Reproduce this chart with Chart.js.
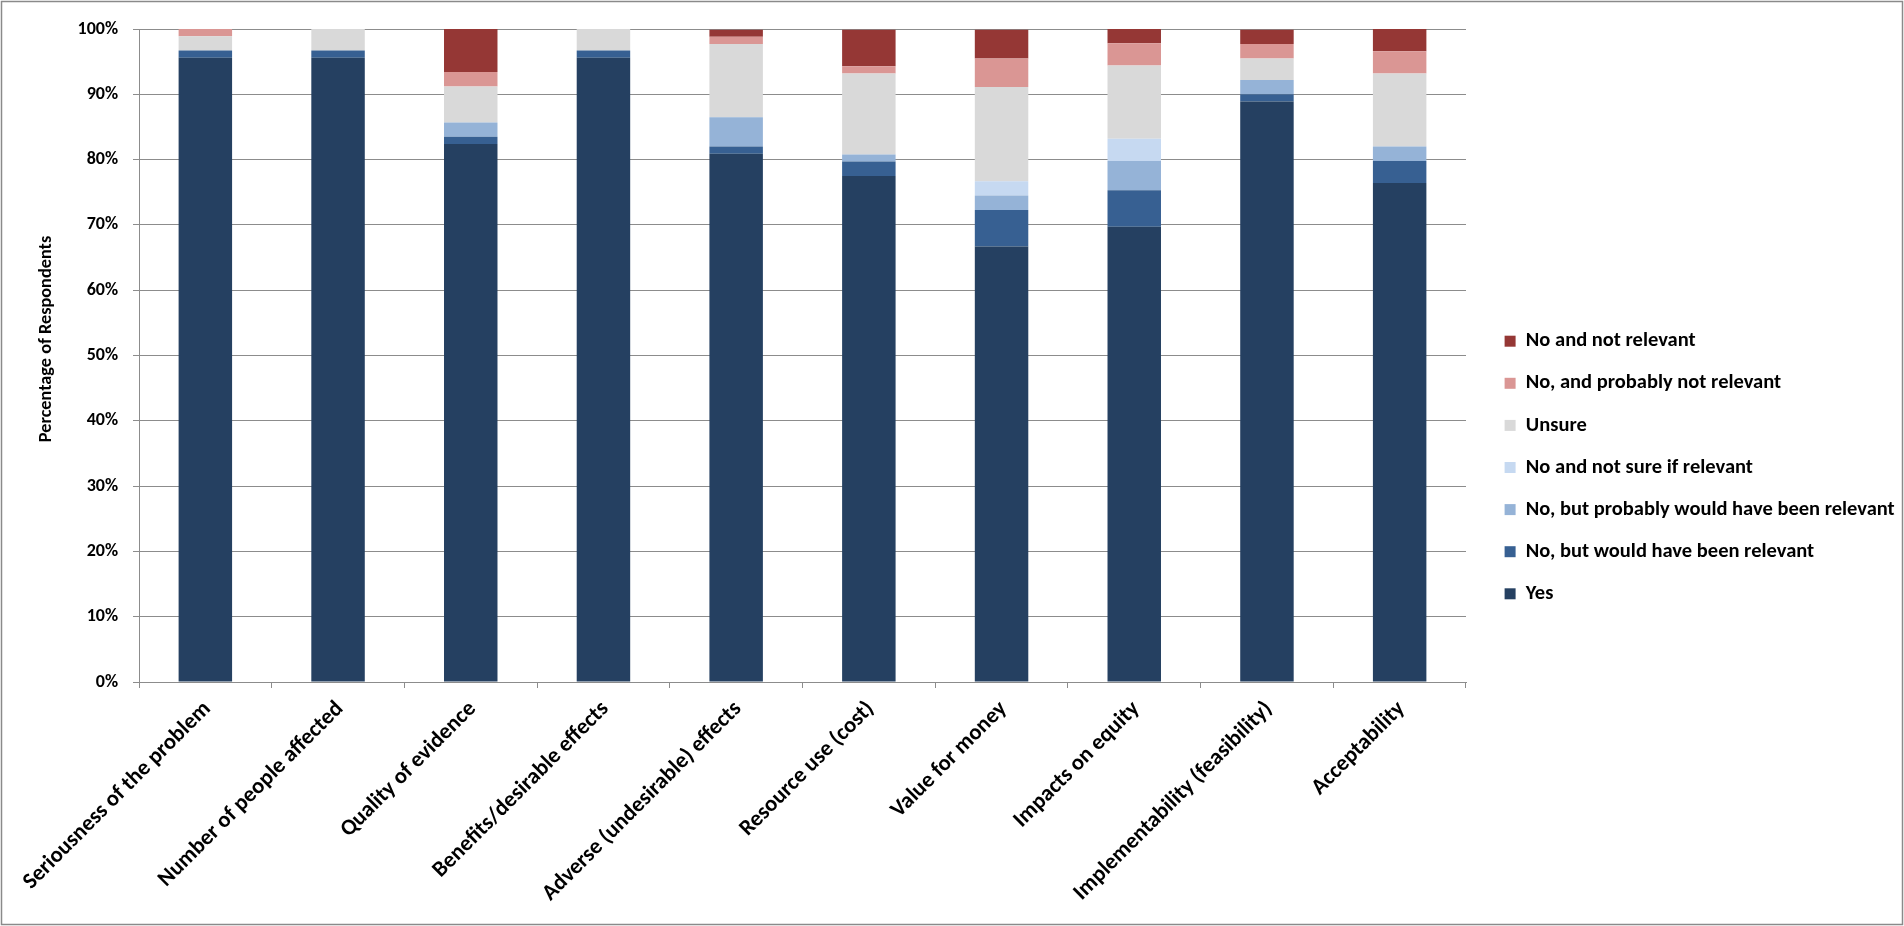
<!DOCTYPE html>
<html>
<head>
<meta charset="utf-8">
<title>Percentage of Respondents</title>
<script src="https://cdn.jsdelivr.net/npm/chart.js@4.4.1/dist/chart.umd.min.js"></script>
<style>
  html, body { margin: 0; padding: 0; background: #fff; }
  #wrap { position: relative; width: 1904px; height: 926px; }
</style>
</head>
<body>
<div id="wrap"><canvas id="chart"></canvas></div>
<script>
// categories along the x axis
const categories = [
    'Seriousness of the problem',
    'Number of people affected',
    'Quality of evidence',
    'Benefits/desirable effects',
    'Adverse (undesirable) effects',
    'Resource use (cost)',
    'Value for money',
    'Impacts on equity',
    'Implementability (feasibility)',
    'Acceptability'
];

// percentage of respondents per answer (bottom to top of the stack)
const yes          = [95.6, 95.6, 82.4, 95.6, 80.9, 77.5, 66.7, 69.7, 88.9, 76.4];
const noWouldRel   = [1.1, 1.1, 1.1, 1.1, 1.1, 2.2, 5.6, 5.6, 1.1, 3.4];
const noProbRel    = [0, 0, 2.2, 0, 4.5, 1.1, 2.2, 4.5, 2.2, 2.2];
const noNotSure    = [0, 0, 0, 0, 0, 0, 2.2, 3.4, 0, 0];
const unsure       = [2.2, 3.3, 5.5, 3.3, 11.2, 12.4, 14.4, 11.2, 3.3, 11.2];
const noProbNotRel = [1.1, 0, 2.2, 0, 1.1, 1.1, 4.4, 3.4, 2.2, 3.4];
const noNotRel     = [0, 0, 6.6, 0, 1.1, 5.6, 4.4, 2.2, 2.2, 3.4];

const seriesLabels = [
    'Yes',
    'No, but would have been relevant',
    'No, but probably would have been relevant',
    'No and not sure if relevant',
    'Unsure',
    'No, and probably not relevant',
    'No and not relevant'
];
const seriesValues = [yes, noWouldRel, noProbRel, noNotSure, unsure, noProbNotRel, noNotRel];
const seriesColors = ['#254061', '#376092', '#95b3d7', '#c6d9f1', '#d9d9d9', '#da9694', '#953735'];

// y axis ticks
const yTicks = [0, 10, 20, 30, 40, 50, 60, 70, 80, 90, 100];
const yTitle = 'Percentage of Respondents';

const FONT = 'Carlito, Calibri, Lato, sans-serif';
const GRID = '#8c8c8c';
const LEGEND_SIZE = 20.5;
const LEGEND_PAD = 21.6;
const LEGEND_W = 421;   // legend column starts at x = 1904 - 421 + pad
const PAD_BOTTOM = 20;

// keep the legend box at a fixed width, whatever the text measures
const legendWidthFix = {
    id: 'legendWidthFix',
    beforeLayout(chart) {
        const lg = chart.legend;
        if (lg && !lg._fixedWidth) {
            const fit = lg.fit.bind(lg);
            lg.fit = function () { fit(); this.width = LEGEND_W; };
            lg._fixedWidth = true;
        }
    }
};

// rotated axis title, sitting a little above the middle of the axis like the original
const axisTitle = {
    id: 'axisTitle',
    afterDraw(chart) {
        const c = chart.ctx;
        c.save();
        c.translate(46, 339);
        c.rotate(-Math.PI / 2);
        c.font = 'bold 18.3px ' + FONT;
        c.fillStyle = '#000';
        c.textAlign = 'center';
        c.textBaseline = 'middle';
        c.fillText(yTitle, 0, 0);
        c.restore();
    }
};

const frame = {
    id: 'frame',
    afterDraw(chart) {
        const c = chart.ctx;
        c.save();
        c.strokeStyle = '#8a8a8a';
        c.lineWidth = 1.5;
        c.strokeRect(1.5, 1.5, chart.width - 3, chart.height - 3);
        c.restore();
    }
};

new Chart(document.getElementById('chart'), {
    type: 'bar',
    data: {
        labels: categories,
        datasets: seriesValues.map((vals, i) => ({
            label: seriesLabels[i],
            data: vals,
            backgroundColor: seriesColors[i],
            borderWidth: 0,
            barPercentage: 0.403,
            categoryPercentage: 1.0
        }))
    },
    options: {
        responsive: true,
        maintainAspectRatio: false,
        animation: false,
        layout: {
            padding: { top: 29, right: 0, bottom: PAD_BOTTOM, left: 0 }
        },
        plugins: {
            legend: {
                display: true,
                position: 'right',
                reverse: true,
                labels: {
                    color: '#000',
                    font: { family: FONT, size: LEGEND_SIZE, weight: 'bold' },
                    boxWidth: 11,
                    boxHeight: 11,
                    padding: LEGEND_PAD
                }
            },
            tooltip: { enabled: false }
        },
        scales: {
            x: {
                stacked: true,
                grid: {
                    drawOnChartArea: false,
                    offset: true,
                    tickLength: 6,
                    color: GRID
                },
                border: { color: GRID, width: 1 },
                ticks: {
                    color: '#000',
                    font: { family: FONT, size: 22.5, weight: 'bold' },
                    minRotation: 45,
                    maxRotation: 45,
                    padding: 8,
                    labelOffset: 2,
                    autoSkip: false
                },
                afterFit(scale) { scale.height = 926 - PAD_BOTTOM - 682; }
            },
            y: {
                stacked: true,
                min: 0,
                max: 100,
                afterBuildTicks(scale) { scale.ticks = yTicks.map(v => ({ value: v })); },
                grid: { color: GRID, tickLength: 6 },
                border: { color: GRID, width: 1 },
                ticks: {
                    color: '#000',
                    font: { family: FONT, size: 18, weight: 'bold' },
                    padding: 15,
                    callback: v => v + '%'
                },
                afterFit(scale) { scale.width = 139; }
            },
            gap: {
                type: 'linear',
                position: 'right',
                display: true,
                grid: { display: false },
                border: { display: false },
                ticks: { display: false },
                afterFit(scale) { scale.width = 17; }
            }
        }
    },
    plugins: [legendWidthFix, axisTitle, frame]
});
</script>
</body>
</html>
